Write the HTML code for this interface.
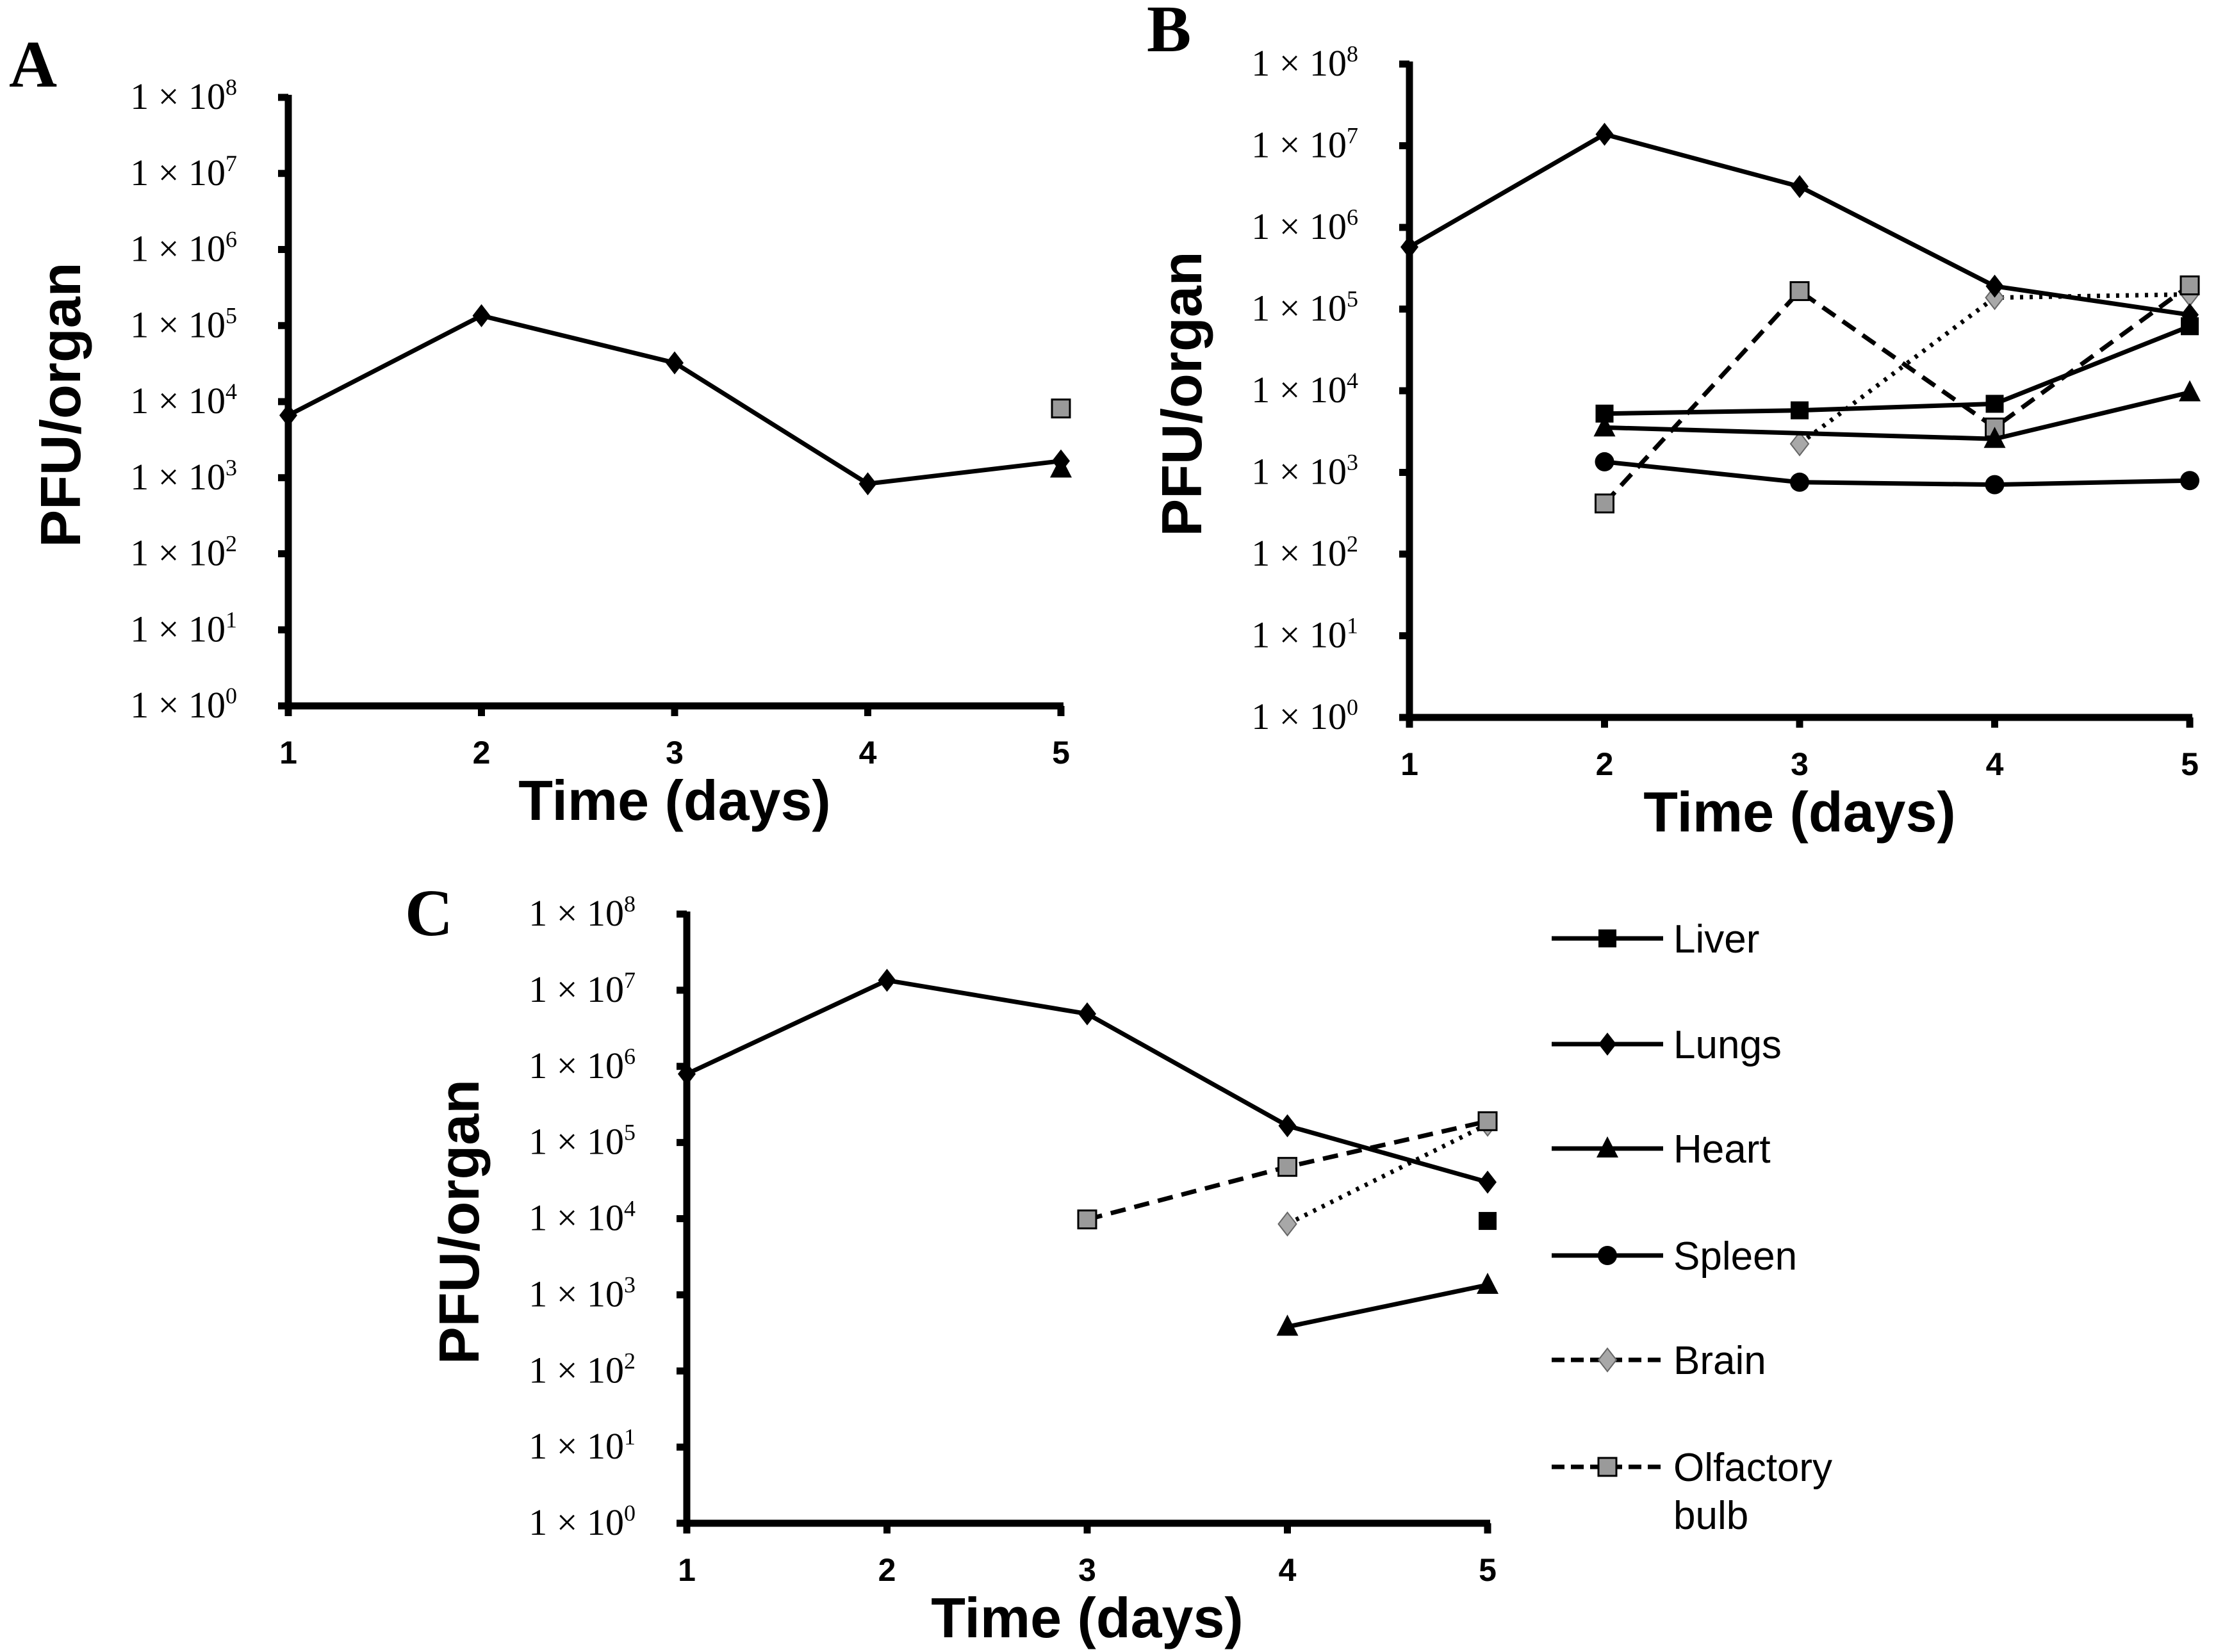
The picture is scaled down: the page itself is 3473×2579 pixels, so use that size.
<!DOCTYPE html>
<html><head><meta charset="utf-8"><style>
html,body{margin:0;padding:0;background:#fff}
svg{display:block}
.tick{font-family:"Liberation Serif",serif;font-size:58px;fill:#000}
.xt{font-family:"Liberation Sans",sans-serif;font-weight:bold;font-size:50px;fill:#000}
.ttl{font-family:"Liberation Sans",sans-serif;font-weight:bold;font-size:88px;fill:#000}
.lbl{font-family:"Liberation Serif",serif;font-weight:bold;font-size:104px;fill:#000}
.leg{font-family:"Liberation Sans",sans-serif;font-size:62px;fill:#000}
</style></head><body>
<svg id="fig" width="3473" height="2579" viewBox="0 0 3473 2579" xmlns="http://www.w3.org/2000/svg"></svg>
<script>
const days = [1, 2, 3, 4, 5];
const yTickExps = [0, 1, 2, 3, 4, 5, 6, 7, 8];
// Panel A (log10 PFU)
const aLungs = [3.82, 5.13, 4.51, 2.92, 3.22];
const aHeart = [null, null, null, null, 3.12];
const aOlf = [null, null, null, null, 3.91];
// Panel B
const bLungs = [5.76, 7.14, 6.50, 5.28, 4.93];
const bLiver = [null, 3.72, 3.76, 3.84, 4.79];
const bHeart = [null, 3.55, null, 3.41, 3.98];
const bSpleen = [null, 3.13, 2.88, 2.85, 2.90];
const bBrain = [null, null, 3.35, 5.14, 5.18];
const bOlf = [null, 2.62, 5.22, 3.55, 5.29];
// Panel C
const cLungs = [5.90, 7.13, 6.69, 5.22, 4.48];
const cOlf = [null, null, 3.99, 4.68, 5.28];
const cBrain = [null, null, null, 3.93, 5.24];
const cLiver = [null, null, null, null, 3.97];
const cHeart = [null, null, null, 2.58, 3.13];
const legendNames = ["Liver", "Lungs", "Heart", "Spleen", "Brain", "Olfactory"];

const NS = "http://www.w3.org/2000/svg";
const svg = document.getElementById('fig');
function mk(tag, attrs, parent) {
  const e = document.createElementNS(NS, tag);
  for (const k in attrs) e.setAttribute(k, attrs[k]);
  (parent || svg).appendChild(e);
  return e;
}
const STY = {
  liver: {m: 'square', fill: '#000', dash: null},
  lungs: {m: 'diamond', fill: '#000', dash: null},
  heart: {m: 'triangle', fill: '#000', dash: null},
  spleen: {m: 'circle', fill: '#000', dash: null},
  brain: {m: 'diamond', fill: '#a8a8a8', dash: '5 10'},
  olf: {m: 'square', fill: '#9a9a9a', dash: '24 14'}
};
function marker(g, type, x, y, fill) {
  const s = 14;
  let e;
  if (type === 'square') e = mk('rect', {x: x - s, y: y - s, width: 2 * s, height: 2 * s, fill: fill, stroke: fill === '#000' ? 'none' : '#000', 'stroke-width': 3}, g);
  else if (type === 'diamond') e = mk('polygon', {points: `${x},${y - 18} ${x + 14},${y} ${x},${y + 18} ${x - 14},${y}`, fill: fill, stroke: fill === '#000' ? 'none' : '#666', 'stroke-width': 2}, g);
  else if (type === 'triangle') e = mk('polygon', {points: `${x},${y - 19} ${x + 17},${y + 14} ${x - 17},${y + 14}`, fill: fill}, g);
  else e = mk('circle', {cx: x, cy: y, r: 15, fill: fill}, g);
  
  
}
function panel(name, letter, lx, ly, x0, x1, yT, yB, series) {
  const g = mk('g', {});
  
  
  const X = d => x0 + (d - 1) * (x1 - x0) / 4;
  const Y = v => yB - v * (yB - yT) / 8;
  const t = mk('text', {x: lx, y: ly, class: 'lbl'}, g); t.textContent = letter;
  
  
  const ax = mk('path', {d: `M${x0},${yT - 4} L${x0},${yB} L${x1 + 4},${yB}`, stroke: '#000', 'stroke-width': 11, fill: 'none'}, g);
  
  
  yTickExps.forEach(e => {
    const y = Y(e);
    mk('line', {x1: x0 - 16, y1: y, x2: x0, y2: y, stroke: '#000', 'stroke-width': 11}, g);
    const tx = mk('text', {x: x0 - 80, y: y + 18, class: 'tick', 'text-anchor': 'end'}, g);
    tx.innerHTML = `1 × 10<tspan dy="-22" font-size="36">${e}</tspan>`;
    
    
  });
  days.forEach(d => {
    const x = X(d);
    mk('line', {x1: x, y1: yB, x2: x, y2: yB + 16, stroke: '#000', 'stroke-width': 11}, g);
    const tx = mk('text', {x: x, y: yB + 90, class: 'xt', 'text-anchor': 'middle'}, g);
    tx.textContent = d;
    
    
  });
  const xt = mk('text', {x: (x0 + x1) / 2, y: yB + 178, class: 'ttl', 'text-anchor': 'middle'}, g);
  xt.textContent = 'Time (days)';
  
  
  const yc = (yT + yB) / 2 + 5;
  const yt = mk('text', {x: x0 - 325, y: yc, class: 'ttl', 'text-anchor': 'middle', transform: `rotate(-90 ${x0 - 325} ${yc})`}, g);
  yt.textContent = 'PFU/organ';
  
  
  series.forEach(([key, vals]) => {
    const st = STY[key];
    const pts = [];
    vals.forEach((v, i) => { if (v !== null) pts.push([X(days[i]), Y(v)]); });
    if (pts.length > 1) {
      const p = mk('polyline', {points: pts.map(p => p.join(',')).join(' '), fill: 'none', stroke: '#000', 'stroke-width': 7}, g);
      if (st.dash) p.setAttribute('stroke-dasharray', st.dash);
      
      
    }
    pts.forEach(p => marker(g, st.m, p[0], p[1], st.fill));
  });
}
panel('a', 'A', 14, 135, 450, 1656, 152, 1102, [['olf', aOlf], ['heart', aHeart], ['lungs', aLungs]]);
panel('b', 'B', 1790, 80, 2200, 3418, 100, 1120, [['brain', bBrain], ['olf', bOlf], ['spleen', bSpleen], ['heart', bHeart], ['liver', bLiver], ['lungs', bLungs]]);
panel('c', 'C', 632, 1460, 1072, 2322, 1427, 2378, [['brain', cBrain], ['olf', cOlf], ['liver', cLiver], ['heart', cHeart], ['lungs', cLungs]]);

const legKeys = ['liver', 'lungs', 'heart', 'spleen', 'brain', 'olf'];
const legY = [1465, 1630, 1793, 1960, 2123, 2290];
legKeys.forEach((k, i) => {
  const g = mk('g', {});
  
  
  const y = legY[i];
  const l = mk('line', {x1: 2422, y1: y, x2: 2596, y2: y, stroke: '#000', 'stroke-width': 7}, g);
  if (k === 'brain' || k === 'olf') l.setAttribute('stroke-dasharray', '20 10');
  marker(g, STY[k].m, 2509, y, STY[k].fill);
  const t = mk('text', {x: 2612, y: y + 22, class: 'leg'}, g);
  t.textContent = legendNames[i];
  if (k === 'olf') {
    const t2 = mk('text', {x: 2612, y: y + 97, class: 'leg'}, g);
    t2.textContent = 'bulb';
  }
});
</script>
</body></html>
